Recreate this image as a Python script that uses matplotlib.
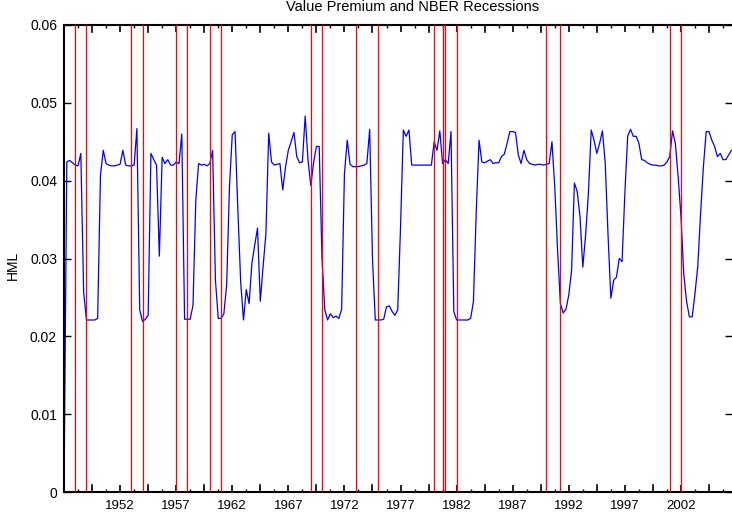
import numpy as np
import matplotlib
matplotlib.use("Agg")
import matplotlib.pyplot as plt
from matplotlib.ticker import FixedLocator, FuncFormatter
from matplotlib.lines import Line2D
import matplotlib.transforms as mtrans

plt.rcParams['font.family'] = ['Liberation Sans', 'DejaVu Sans']

# ---- data -------------------------------------------------------------
start_year = 1947.0          # first quarter shown (1947Q1)
hml = [
    0.0000, 0.0424, 0.0426, 0.0423,   # 1947
    0.0420, 0.0419, 0.0435, 0.0257,   # 1948
    0.0221, 0.0221, 0.0221, 0.0221,   # 1949
    0.0223, 0.0407, 0.0439, 0.0422,   # 1950
    0.0420, 0.0419, 0.0419, 0.0420,   # 1951
    0.0421, 0.0439, 0.0420, 0.0419,   # 1952
    0.0419, 0.0420, 0.0467, 0.0234,   # 1953
    0.0219, 0.0222, 0.0227, 0.0435,   # 1954
    0.0427, 0.0420, 0.0303, 0.0430,   # 1955
    0.0422, 0.0427, 0.0420, 0.0420,   # 1956
    0.0424, 0.0422, 0.0460, 0.0222,   # 1957
    0.0222, 0.0222, 0.0240, 0.0375,   # 1958
    0.0422, 0.0420, 0.0421, 0.0419,   # 1959
    0.0422, 0.0439, 0.0272, 0.0223,   # 1960
    0.0223, 0.0229, 0.0266, 0.0392,   # 1961
    0.0459, 0.0463, 0.0362, 0.0270,   # 1962
    0.0221, 0.0260, 0.0242, 0.0294,   # 1963
    0.0317, 0.0339, 0.0245, 0.0290,   # 1964
    0.0332, 0.0461, 0.0424, 0.0420,   # 1965
    0.0421, 0.0422, 0.0388, 0.0418,   # 1966
    0.0439, 0.0450, 0.0462, 0.0431,   # 1967
    0.0423, 0.0424, 0.0483, 0.0427,   # 1968
    0.0394, 0.0423, 0.0444, 0.0444,   # 1969
    0.0300, 0.0234, 0.0221, 0.0229,   # 1970
    0.0224, 0.0226, 0.0223, 0.0235,   # 1971
    0.0409, 0.0452, 0.0421, 0.0418,   # 1972
    0.0418, 0.0418, 0.0419, 0.0420,   # 1973
    0.0422, 0.0466, 0.0300, 0.0221,   # 1974
    0.0221, 0.0221, 0.0222, 0.0238,   # 1975
    0.0239, 0.0232, 0.0227, 0.0234,   # 1976
    0.0340, 0.0465, 0.0457, 0.0465,   # 1977
    0.0420, 0.0420, 0.0420, 0.0420,   # 1978
    0.0420, 0.0420, 0.0420, 0.0420,   # 1979
    0.0450, 0.0439, 0.0464, 0.0422,   # 1980
    0.0427, 0.0422, 0.0463, 0.0232,   # 1981
    0.0221, 0.0221, 0.0221, 0.0221,   # 1982
    0.0221, 0.0223, 0.0245, 0.0360,   # 1983
    0.0452, 0.0424, 0.0423, 0.0425,   # 1984
    0.0427, 0.0422, 0.0423, 0.0423,   # 1985
    0.0431, 0.0434, 0.0448, 0.0463,   # 1986
    0.0463, 0.0462, 0.0433, 0.0422,   # 1987
    0.0439, 0.0427, 0.0422, 0.0421,   # 1988
    0.0420, 0.0421, 0.0421, 0.0420,   # 1989
    0.0421, 0.0422, 0.0450, 0.0392,   # 1990
    0.0311, 0.0242, 0.0230, 0.0235,   # 1991
    0.0253, 0.0285, 0.0397, 0.0386,   # 1992
    0.0354, 0.0289, 0.0330, 0.0384,   # 1993
    0.0465, 0.0452, 0.0435, 0.0448,   # 1994
    0.0464, 0.0422, 0.0330, 0.0249,   # 1995
    0.0272, 0.0276, 0.0300, 0.0296,   # 1996
    0.0384, 0.0457, 0.0466, 0.0457,   # 1997
    0.0457, 0.0448, 0.0427, 0.0426,   # 1998
    0.0423, 0.0421, 0.0420, 0.0420,   # 1999
    0.0419, 0.0419, 0.0420, 0.0424,   # 2000
    0.0431, 0.0464, 0.0448, 0.0405,   # 2001
    0.0354, 0.0280, 0.0245, 0.0225,   # 2002
    0.0225, 0.0255, 0.0290, 0.0358,   # 2003
    0.0418, 0.0463, 0.0463, 0.0452,   # 2004
    0.0444, 0.0431, 0.0435, 0.0427,   # 2005
    0.0427, 0.0433, 0.0439,           # 2006
]
recession_lines = [1948.0, 1949.0, 1953.0, 1954.0, 1957.0, 1958.0,
                   1960.0, 1961.0, 1969.0, 1970.0, 1973.0, 1975.0,
                   1980.0, 1980.75, 1981.0, 1982.0, 1990.0, 1991.25,
                   2001.0, 2002.0]
year_labels = [1952, 1957, 1962, 1967, 1972, 1977, 1982, 1987, 1992, 1997, 2002]
y_ticks = [0.0, 0.01, 0.02, 0.03, 0.04, 0.05, 0.06]
title = "Value Premium and NBER Recessions"
ylabel = "HML"

# ---- figure -----------------------------------------------------------
W, H = 732, 520
fig = plt.figure(figsize=(W / 100, H / 100), dpi=100)
ax = fig.add_axes([64 / W, (H - 492) / H, (732 - 64) / W, (492 - 25) / H])

dates = start_year + 0.25 * np.arange(len(hml))
ax.plot(dates, hml, color='#0000ff', lw=0.9, zorder=2)
for r in recession_lines:
    ax.axvline(r, color='#ff0000', lw=0.9, zorder=3)

XMIN, XMAX = 1947.0, 2006.55

# ticks
ax.xaxis.set_major_locator(FixedLocator(year_labels))
ax.xaxis.set_major_formatter(FuncFormatter(lambda v, p: f"{int(round(v))}"))
mids = [y + 2.5 for y in year_labels] + [year_labels[0] - 2.5]
minor_pos = [year_labels[0] - 5 + 1.25 * k for k in range(1, 50) if (k % 2 == 1)]
minor_pos = [m for m in minor_pos if XMIN < m < XMAX]
ax.xaxis.set_minor_locator(FixedLocator(minor_pos))
ax.tick_params(axis='x', which='major', direction='in', length=5, width=1.2,
               top=True, bottom=True, labelsize=9.5, pad=6, color='black')
ax.tick_params(axis='x', which='minor', direction='in', length=2.5, width=1.0,
               top=True, bottom=True)
# intermediate (unlabelled) taller ticks every 2.5 years
trans = mtrans.blended_transform_factory(ax.transData, ax.transAxes)
for m in mids:
    ax.add_line(Line2D([m, m], [0, 7 / 467], transform=trans, color='black',
                       lw=1.2, clip_on=True, zorder=4))
    ax.add_line(Line2D([m, m], [1 - 7 / 467, 1], transform=trans, color='black',
                       lw=1.2, clip_on=True, zorder=4))

ax.yaxis.set_major_locator(FixedLocator(y_ticks))
ax.yaxis.set_major_formatter(FuncFormatter(lambda v, p: "0" if v == 0 else f"{v:.2f}"))
ax.tick_params(axis='y', which='major', direction='in', length=5, width=1.0,
               left=True, right=True, labelsize=10, pad=5)

ax.set_xlim(XMIN, XMAX)
ax.set_ylim(0, 0.06)

for s in ['left', 'bottom', 'top']:
    ax.spines[s].set_linewidth(1.5)
ax.spines['right'].set_visible(False)

fig.text(413 / W, 1 - 7 / H, title, ha='center', va='center', fontsize=10.5)
fig.text(13 / W, 1 - 265 / H, ylabel, ha='center', va='center', rotation=90, fontsize=10)

fig.savefig("out.png", dpi=100)
